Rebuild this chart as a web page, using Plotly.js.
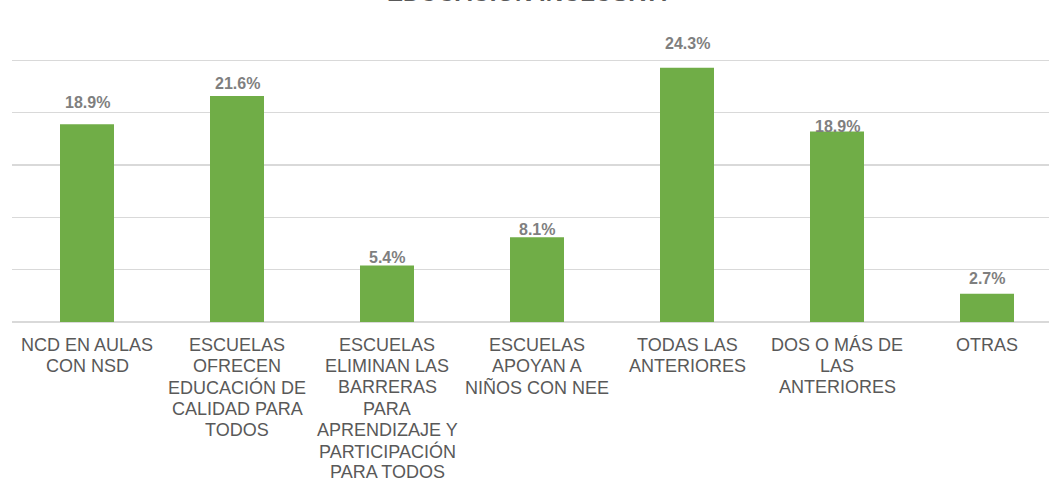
<!DOCTYPE html>
<html>
<head>
<meta charset="utf-8">
<script src="https://cdn.plot.ly/plotly-3.0.1.min.js"></script>
<style>html,body{margin:0;padding:0;background:#fff;}#chart{width:1049px;height:481px;}</style>
</head>
<body>
<div id="chart"></div>
<script>
const chartTitle = "EDUCACIÓN INCLUSIVA";
const categoryLines = [
  ["NCD EN AULAS", "CON NSD"],
  ["ESCUELAS", "OFRECEN", "EDUCACIÓN DE", "CALIDAD PARA", "TODOS"],
  ["ESCUELAS", "ELIMINAN LAS", "BARRERAS", "PARA", "APRENDIZAJE Y", "PARTICIPACIÓN", "PARA TODOS"],
  ["ESCUELAS", "APOYAN A", "NIÑOS CON NEE"],
  ["TODAS LAS", "ANTERIORES"],
  ["DOS O MÁS DE", "LAS", "ANTERIORES"],
  ["OTRAS"]
];
const values = [18.9, 21.6, 5.4, 8.1, 24.3, 18.2, 2.7];
const labelTexts = ["18.9%", "21.6%", "5.4%", "8.1%", "24.3%", "18.9%", "2.7%"];
const labelShift = [11, 2, -3, -3, 14, -5, 5];

const FONT = 'Liberation Sans, Arial, sans-serif';
const xIdx = categoryLines.map((c, i) => i);
const plotWidthPx = 1037, catPx = 150;
const lineStep = 21.2, firstLineShift = -11;

const annotations = values.map((v, i) => ({
  x: i, y: v, xref: 'x', yref: 'y',
  text: '<b>' + labelTexts[i] + '</b>',
  showarrow: false, yanchor: 'bottom', yshift: labelShift[i],
  font: {family: FONT, size: 16, color: '#7f7f7f'}
}));
categoryLines.forEach((lines, i) => {
  lines.forEach((line, k) => {
    annotations.push({
      x: i, y: 0, xref: 'x', yref: 'paper',
      text: line, showarrow: false, yanchor: 'top',
      yshift: firstLineShift - k * lineStep,
      font: {family: FONT, size: 18, color: '#595959'}
    });
  });
});
annotations.push({
  xref: 'paper', yref: 'paper', x: 0.5, y: 1, xshift: -4, yshift: -0.5,
  yanchor: 'bottom', showarrow: false,
  text: '<b>' + chartTitle + '</b>',
  font: {family: FONT, size: 24, color: '#595959'}
});

Plotly.newPlot('chart', [{
  type: 'bar',
  x: xIdx,
  y: values,
  marker: {color: '#70AD47'},
  hoverinfo: 'none'
}], {
  width: 1049, height: 481,
  margin: {l: 12, r: 0, t: 7.5, b: 159},
  paper_bgcolor: '#ffffff', plot_bgcolor: '#ffffff',
  bargap: 0.64,
  showlegend: false,
  xaxis: {
    range: [-0.5, -0.5 + plotWidthPx / catPx],
    showticklabels: false,
    showgrid: false, zeroline: false, showline: false, ticks: ''
  },
  yaxis: {
    range: [0, 30], dtick: 5, showticklabels: false,
    showgrid: true, gridcolor: '#d9d9d9', gridwidth: 1.5,
    zeroline: true, zerolinecolor: '#d9d9d9', zerolinewidth: 2,
    fixedrange: true
  },
  annotations: annotations
}, {displayModeBar: false, staticPlot: true});
</script>
</body>
</html>
